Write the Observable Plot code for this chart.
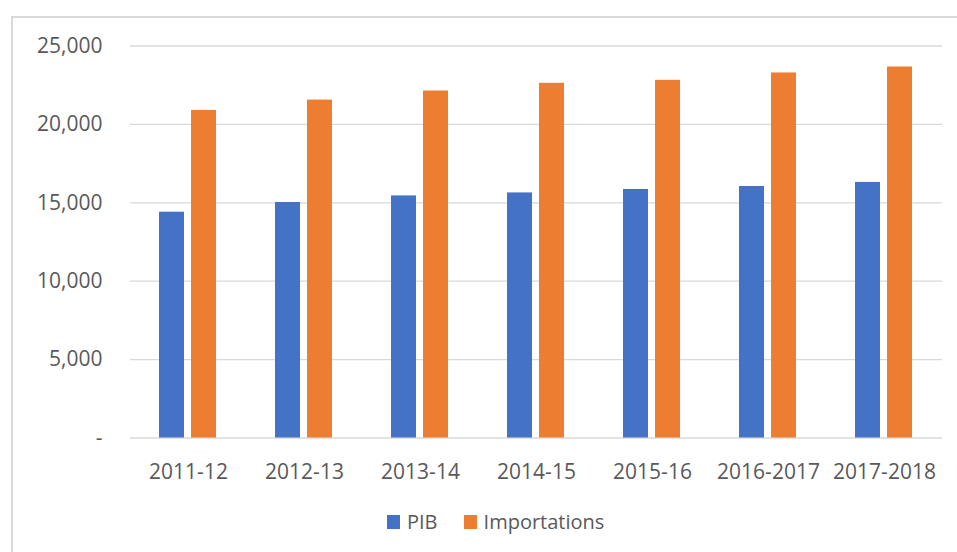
<!DOCTYPE html>
<html>
<head>
<meta charset="utf-8">
<script src="https://cdn.jsdelivr.net/npm/d3@7"></script>
<script src="https://cdn.jsdelivr.net/npm/@observablehq/plot@0.6"></script>
<style>
  html, body { margin: 0; padding: 0; background: #fff; width: 957px; height: 552px; overflow: hidden; position: relative; }
  #frame { position: absolute; left: 11px; top: 16px; width: 1000px; height: 600px; border-left: 2px solid #d9d9d9; border-top: 2px solid #d9d9d9; box-sizing: border-box; }
  #chart { position: absolute; left: 0; top: 0; }
  #legend { position: absolute; left: 387px; top: 508px; display: flex; align-items: center; font-family: "Open Sans", sans-serif; font-size: 20px; color: #595959; }
  #legend .item { display: flex; align-items: center; }
  #legend .sw { width: 13px; height: 14px; margin-right: 7px; }
  #legend .item + .item { margin-left: 26px; }
</style>
</head>
<body>
<div id="frame"></div>
<div id="chart"></div>
<div id="legend"></div>
<script>
const categories = ["2011-12", "2012-13", "2013-14", "2014-15", "2015-16", "2016-2017", "2017-2018"];
const seriesNames = ["PIB", "Importations"];
const pib = [14400, 15020, 15440, 15630, 15850, 16040, 16300];
const importations = [20890, 21550, 22130, 22620, 22810, 23280, 23660];
const yTicks = [0, 5000, 10000, 15000, 20000, 25000];
const colors = ["#4472C4", "#ED7D31"];

const data = [];
categories.forEach((c, i) => {
  data.push({category: c, series: "PIB", value: pib[i]});
  data.push({category: c, series: "Importations", value: importations[i]});
});

const fmt = d3.format(",");
const plot = Plot.plot({
  width: 957,
  height: 490,
  marginLeft: 128,
  marginRight: 14,
  marginTop: 45.5,
  marginBottom: 52.5,
  style: { fontFamily: "Open Sans, sans-serif", fontSize: "21px", color: "#595959", background: "transparent", overflow: "visible" },
  facet: { data: data, x: "category" },
  fx: { domain: categories, padding: 0, label: null, tickSize: 0, tickPadding: 26, axis: "bottom" },
  x: { domain: seriesNames, paddingInner: 0.212, paddingOuter: 0.87, axis: null },
  y: { domain: [0, 25000], ticks: yTicks, tickFormat: d => d === 0 ? "-" : fmt(d), tickSize: 0, tickPadding: 28, label: null, grid: false },
  color: { domain: seriesNames, range: colors },
  marks: [
    Plot.ruleY(yTicks, { stroke: "#d9d9d9", strokeWidth: 1.3 }),
    Plot.barY(data, { x: "series", y: "value", fill: "series" })
  ]
});
document.getElementById("chart").appendChild(plot);

const legend = document.getElementById("legend");
seriesNames.forEach((s, i) => {
  const item = document.createElement("div");
  item.className = "item";
  const sw = document.createElement("div");
  sw.className = "sw";
  sw.style.background = colors[i];
  const t = document.createElement("span");
  t.textContent = s;
  item.appendChild(sw);
  item.appendChild(t);
  legend.appendChild(item);
});
</script>
</body>
</html>
